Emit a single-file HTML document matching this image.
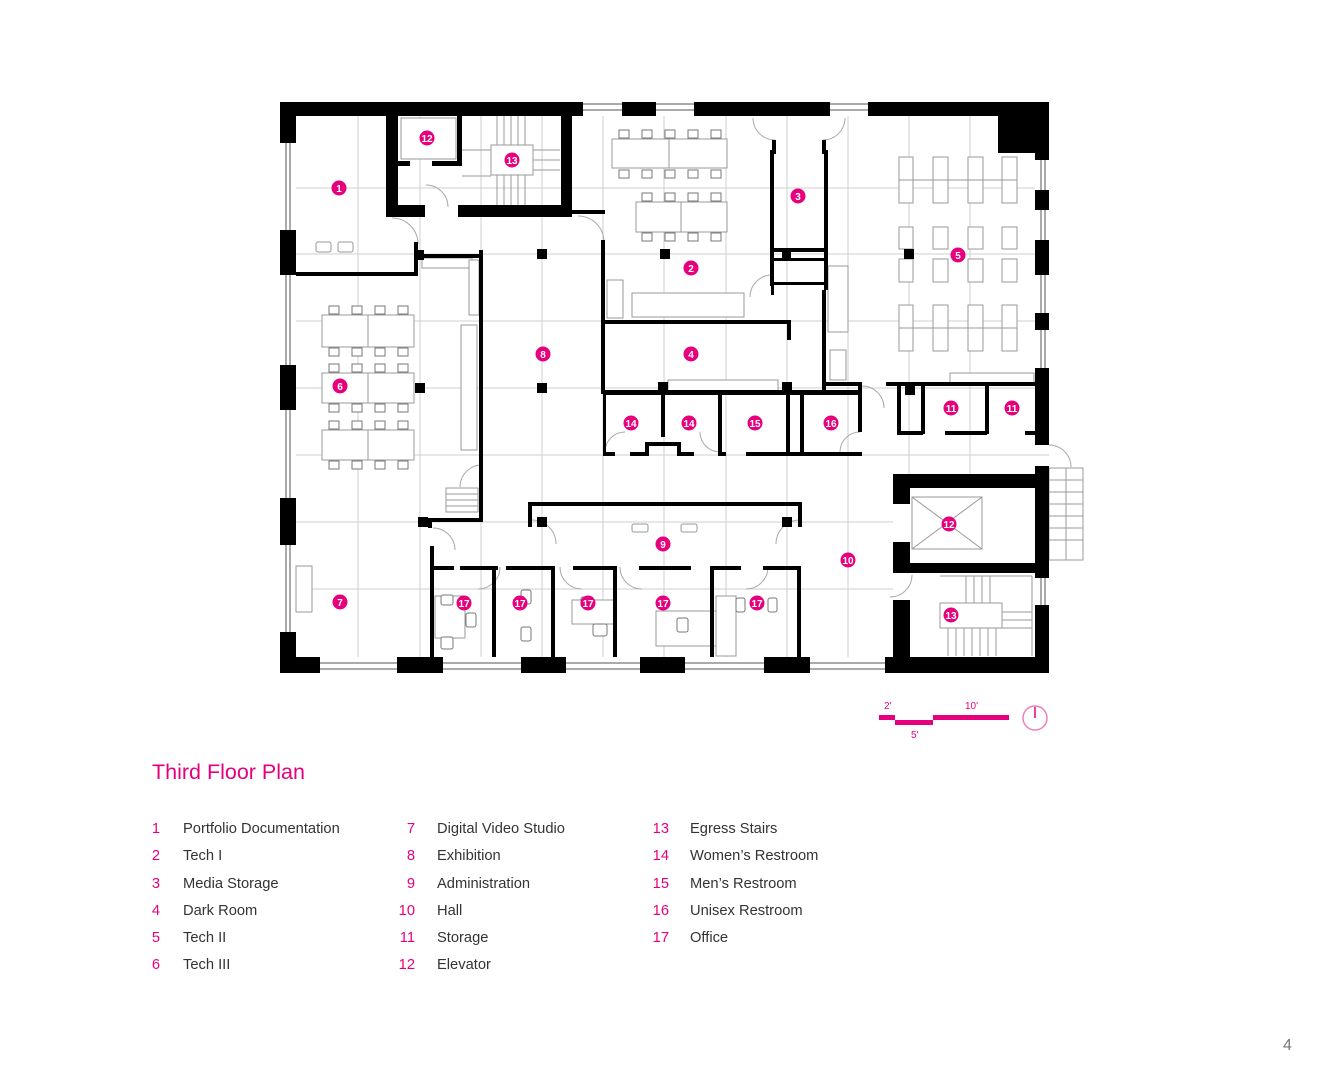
<!DOCTYPE html>
<html><head><meta charset="utf-8"><style>
html,body{margin:0;padding:0;background:#fff;}
body{width:1331px;height:1080px;position:relative;overflow:hidden;font-family:"Liberation Sans",sans-serif;}
svg{position:absolute;left:0;top:0;}
</style></head><body>
<svg width="1331" height="1080" viewBox="0 0 1331 1080" xmlns="http://www.w3.org/2000/svg">
<!-- grid -->
<g stroke="#cfcfcf" stroke-width="1">
<line x1="358" y1="116" x2="358" y2="657"/><line x1="420" y1="116" x2="420" y2="657"/>
<line x1="481" y1="116" x2="481" y2="657"/><line x1="542" y1="116" x2="542" y2="657"/>
<line x1="603" y1="116" x2="603" y2="657"/><line x1="664" y1="116" x2="664" y2="657"/>
<line x1="726" y1="116" x2="726" y2="657"/><line x1="787" y1="116" x2="787" y2="657"/>
<line x1="848" y1="116" x2="848" y2="657"/><line x1="909" y1="116" x2="909" y2="475"/>
<line x1="970" y1="116" x2="970" y2="475"/>
<line x1="296" y1="188" x2="1035" y2="188"/><line x1="296" y1="254" x2="1035" y2="254"/>
<line x1="296" y1="321" x2="1035" y2="321"/><line x1="296" y1="388" x2="1035" y2="388"/>
<line x1="296" y1="455" x2="1049" y2="455"/><line x1="296" y1="522" x2="893" y2="522"/>
<line x1="296" y1="589" x2="893" y2="589"/>
</g>
<!-- furniture light -->
<g fill="#fff" stroke="#999" stroke-width="1">
<rect x="899" y="157" width="14" height="46"/><rect x="933" y="157" width="15" height="46"/><rect x="968" y="157" width="15" height="46"/><rect x="1002" y="157" width="15" height="46"/>
<line x1="899" y1="180" x2="1017" y2="180"/>
<rect x="899" y="227" width="14" height="22"/><rect x="933" y="227" width="15" height="22"/><rect x="968" y="227" width="15" height="22"/><rect x="1002" y="227" width="15" height="22"/>
<rect x="899" y="259" width="14" height="23"/><rect x="933" y="259" width="15" height="23"/><rect x="968" y="259" width="15" height="23"/><rect x="1002" y="259" width="15" height="23"/>
<rect x="899" y="305" width="14" height="46"/><rect x="933" y="305" width="15" height="46"/><rect x="968" y="305" width="15" height="46"/><rect x="1002" y="305" width="15" height="46"/>
<line x1="899" y1="328" x2="1017" y2="328"/>
<rect x="950" y="373" width="84" height="10"/>
<rect x="612" y="139" width="57" height="29"/><rect x="669" y="139" width="58" height="29"/>
<rect x="636" y="202" width="45" height="30"/><rect x="681" y="202" width="46" height="30"/>
<rect x="632" y="293" width="112" height="24"/><rect x="607" y="280" width="16" height="38"/>
<rect x="828" y="266" width="20" height="66"/><rect x="830" y="350" width="16" height="30"/>
<rect x="322" y="315" width="46" height="32"/><rect x="368" y="315" width="46" height="32"/>
<rect x="322" y="373" width="46" height="30"/><rect x="368" y="373" width="46" height="30"/>
<rect x="322" y="430" width="46" height="30"/><rect x="368" y="430" width="46" height="30"/>
<rect x="422" y="258" width="50" height="10"/><rect x="469" y="260" width="10" height="55"/>
<rect x="461" y="325" width="16" height="125"/>
<rect x="296" y="566" width="16" height="46"/>
<rect x="316" y="242" width="15" height="10" rx="2"/><rect x="338" y="242" width="15" height="10" rx="2"/>
<rect x="632" y="524" width="16" height="8" rx="2"/><rect x="681" y="524" width="16" height="8" rx="2"/>
<rect x="668" y="380" width="110" height="12"/>
<rect x="401" y="118" width="55" height="41"/>
<rect x="912" y="497" width="70" height="52"/>
<line x1="912" y1="497" x2="982" y2="549"/><line x1="982" y1="497" x2="912" y2="549"/>
<!-- stairs upper -->
<rect x="491" y="145" width="42" height="30"/>
<line x1="497" y1="116" x2="497" y2="145"/><line x1="504" y1="116" x2="504" y2="145"/><line x1="511" y1="116" x2="511" y2="145"/><line x1="518" y1="116" x2="518" y2="145"/><line x1="525" y1="116" x2="525" y2="145"/>
<line x1="497" y1="175" x2="497" y2="205"/><line x1="504" y1="175" x2="504" y2="205"/><line x1="511" y1="175" x2="511" y2="205"/><line x1="518" y1="175" x2="518" y2="205"/><line x1="525" y1="175" x2="525" y2="205"/>
<line x1="533" y1="150" x2="560" y2="150"/><line x1="533" y1="160" x2="560" y2="160"/><line x1="533" y1="170" x2="560" y2="170"/>
<line x1="462" y1="150" x2="491" y2="150"/><line x1="462" y1="176" x2="491" y2="176"/>
<!-- stairs lower -->
<rect x="940" y="603" width="62" height="25"/>
<line x1="940" y1="576" x2="1032" y2="576"/><line x1="1032" y1="576" x2="1032" y2="656"/>
<line x1="948" y1="628" x2="948" y2="656"/><line x1="956" y1="628" x2="956" y2="656"/><line x1="964" y1="628" x2="964" y2="656"/><line x1="972" y1="628" x2="972" y2="656"/><line x1="980" y1="628" x2="980" y2="656"/><line x1="988" y1="628" x2="988" y2="656"/><line x1="996" y1="628" x2="996" y2="656"/>
<line x1="1002" y1="612" x2="1032" y2="612"/><line x1="1002" y1="620" x2="1032" y2="620"/><line x1="1002" y1="628" x2="1032" y2="628"/>
<line x1="966" y1="576" x2="966" y2="603"/><line x1="974" y1="576" x2="974" y2="603"/><line x1="982" y1="576" x2="982" y2="603"/><line x1="990" y1="576" x2="990" y2="603"/>
<rect x="1049" y="468" width="34" height="92"/><line x1="1066" y1="468" x2="1066" y2="560"/>
<line x1="1049" y1="480" x2="1083" y2="480"/><line x1="1049" y1="492" x2="1083" y2="492"/><line x1="1049" y1="504" x2="1083" y2="504"/><line x1="1049" y1="516" x2="1083" y2="516"/><line x1="1049" y1="528" x2="1083" y2="528"/><line x1="1049" y1="540" x2="1083" y2="540"/>
<rect x="446" y="488" width="32" height="24"/>
<line x1="446" y1="494" x2="478" y2="494"/><line x1="446" y1="500" x2="478" y2="500"/><line x1="446" y1="506" x2="478" y2="506"/>
<rect x="435" y="596" width="30" height="42"/><rect x="572" y="600" width="44" height="24"/>
<rect x="656" y="611" width="60" height="35"/><rect x="716" y="596" width="20" height="60"/>
</g>
<g fill="#fff" stroke="#777" stroke-width="1">
<rect x="619" y="130" width="10" height="8"/><rect x="642" y="130" width="10" height="8"/><rect x="665" y="130" width="10" height="8"/><rect x="688" y="130" width="10" height="8"/><rect x="711" y="130" width="10" height="8"/>
<rect x="619" y="170" width="10" height="8"/><rect x="642" y="170" width="10" height="8"/><rect x="665" y="170" width="10" height="8"/><rect x="688" y="170" width="10" height="8"/><rect x="711" y="170" width="10" height="8"/>
<rect x="642" y="193" width="10" height="8"/><rect x="665" y="193" width="10" height="8"/><rect x="688" y="193" width="10" height="8"/><rect x="711" y="193" width="10" height="8"/>
<rect x="642" y="233" width="10" height="8"/><rect x="665" y="233" width="10" height="8"/><rect x="688" y="233" width="10" height="8"/><rect x="711" y="233" width="10" height="8"/>
<rect x="329" y="306" width="10" height="8"/><rect x="352" y="306" width="10" height="8"/><rect x="375" y="306" width="10" height="8"/><rect x="398" y="306" width="10" height="8"/>
<rect x="329" y="348" width="10" height="8"/><rect x="352" y="348" width="10" height="8"/><rect x="375" y="348" width="10" height="8"/><rect x="398" y="348" width="10" height="8"/>
<rect x="329" y="364" width="10" height="8"/><rect x="352" y="364" width="10" height="8"/><rect x="375" y="364" width="10" height="8"/><rect x="398" y="364" width="10" height="8"/>
<rect x="329" y="404" width="10" height="8"/><rect x="352" y="404" width="10" height="8"/><rect x="375" y="404" width="10" height="8"/><rect x="398" y="404" width="10" height="8"/>
<rect x="329" y="421" width="10" height="8"/><rect x="352" y="421" width="10" height="8"/><rect x="375" y="421" width="10" height="8"/><rect x="398" y="421" width="10" height="8"/>
<rect x="329" y="461" width="10" height="8"/><rect x="352" y="461" width="10" height="8"/><rect x="375" y="461" width="10" height="8"/><rect x="398" y="461" width="10" height="8"/>
<rect x="441" y="595" width="12" height="10" rx="2"/><rect x="466" y="613" width="10" height="14" rx="2"/><rect x="441" y="637" width="12" height="12" rx="2"/>
<rect x="521" y="590" width="10" height="14" rx="2"/><rect x="521" y="627" width="10" height="14" rx="2"/>
<rect x="581" y="597" width="12" height="10" rx="2"/><rect x="593" y="624" width="14" height="12" rx="2"/>
<rect x="677" y="618" width="11" height="14" rx="2"/>
<rect x="736" y="598" width="9" height="14" rx="2"/><rect x="768" y="598" width="9" height="14" rx="2"/>
</g>
<g fill="none" stroke="#aaa" stroke-width="1">
<path d="M392 218 A26 26 0 0 1 418 244"/><path d="M426 185 A22 22 0 0 1 448 207"/>
<path d="M578 216 A26 26 0 0 1 604 242"/><path d="M753 118 A22 22 0 0 0 775 140"/>
<path d="M845 118 A22 22 0 0 1 823 140"/><path d="M750 297 A22 22 0 0 1 772 275"/>
<path d="M482 465 A22 22 0 0 0 460 487"/><path d="M433 528 A22 22 0 0 1 455 550"/>
<path d="M862 386 A22 22 0 0 1 884 408"/><path d="M532 520 A24 24 0 0 1 556 544"/>
<path d="M800 520 A24 24 0 0 0 776 544"/><path d="M1049 445 A22 22 0 0 1 1071 467"/>
<path d="M912 575 A22 22 0 0 1 890 597"/>
<path d="M500 567 A22 22 0 0 1 478 589"/><path d="M560 567 A22 22 0 0 0 582 589"/>
<path d="M620 567 A22 22 0 0 0 642 589"/><path d="M768 567 A22 22 0 0 1 746 589"/>
<path d="M605 452 A20 20 0 0 1 625 432"/><path d="M720 452 A20 20 0 0 1 700 432"/>
<path d="M840 452 A20 20 0 0 1 860 432"/>
</g>
<g stroke="#555" stroke-width="1">
<line x1="286" y1="143" x2="286" y2="632"/><line x1="290" y1="143" x2="290" y2="632"/>
<line x1="583" y1="104" x2="1040" y2="104"/><line x1="583" y1="110" x2="868" y2="110"/>
<line x1="320" y1="663" x2="885" y2="663"/><line x1="320" y1="669" x2="885" y2="669"/>
<line x1="1041" y1="160" x2="1041" y2="368"/><line x1="1045" y1="160" x2="1045" y2="368"/>
<line x1="1041" y1="578" x2="1041" y2="612"/><line x1="1045" y1="578" x2="1045" y2="612"/>
</g>
<g fill="#000">
<rect x="280" y="102" width="303" height="14"/><rect x="622" y="102" width="34" height="14"/>
<rect x="694" y="102" width="136" height="14"/><rect x="868" y="102" width="181" height="14"/>
<rect x="998" y="102" width="51" height="51"/>
<rect x="280" y="102" width="16" height="41"/><rect x="280" y="230" width="16" height="45"/>
<rect x="280" y="365" width="16" height="45"/><rect x="280" y="498" width="16" height="47"/>
<rect x="280" y="632" width="16" height="41"/>
<rect x="280" y="657" width="40" height="16"/><rect x="397" y="657" width="46" height="16"/>
<rect x="521" y="657" width="45" height="16"/><rect x="640" y="657" width="45" height="16"/>
<rect x="764" y="657" width="46" height="16"/><rect x="885" y="657" width="164" height="16"/>
<rect x="1035" y="102" width="14" height="58"/><rect x="1035" y="190" width="14" height="20"/>
<rect x="1035" y="240" width="14" height="35"/><rect x="1035" y="313" width="14" height="17"/>
<rect x="1035" y="368" width="14" height="77"/><rect x="1035" y="466" width="14" height="112"/>
<rect x="1035" y="605" width="14" height="68"/>
<rect x="386" y="102" width="12" height="113"/><rect x="386" y="205" width="39" height="12"/>
<rect x="458" y="205" width="114" height="12"/><rect x="561" y="102" width="11" height="113"/>
<rect x="398" y="161" width="12" height="5"/><rect x="432" y="161" width="30" height="5"/>
<rect x="457" y="102" width="5" height="64"/>
<rect x="571" y="210" width="34" height="4"/>
<rect x="296" y="272" width="122" height="4"/><rect x="414" y="242" width="4" height="34"/>
<rect x="414" y="250" width="10" height="10"/><rect x="424" y="254" width="58" height="4"/>
<rect x="479" y="250" width="4" height="272"/><rect x="601" y="240" width="4" height="154"/>
<rect x="418" y="517" width="10" height="10"/><rect x="428" y="518" width="54" height="4"/>
<rect x="430" y="546" width="4" height="111"/><rect x="428" y="518" width="4" height="10"/>
<rect x="601" y="320" width="190" height="4"/><rect x="787" y="320" width="4" height="20"/>
<rect x="603" y="390" width="259" height="5"/>
<rect x="658" y="382" width="10" height="10"/><rect x="782" y="382" width="10" height="10"/>
<rect x="770" y="150" width="4" height="136"/><rect x="824" y="150" width="4" height="140"/>
<rect x="772" y="140" width="4" height="14"/><rect x="822" y="140" width="4" height="14"/>
<rect x="770" y="248" width="58" height="4"/><rect x="770" y="258" width="58" height="3"/>
<rect x="782" y="250" width="9" height="9"/><rect x="770" y="282" width="58" height="3"/>
<rect x="771" y="285" width="3" height="10"/>
<rect x="822" y="290" width="4" height="102"/><rect x="826" y="382" width="36" height="4"/>
<rect x="858" y="382" width="4" height="50"/>
<rect x="603" y="395" width="3" height="60"/><rect x="661" y="395" width="4" height="42"/>
<rect x="718" y="395" width="4" height="60"/>
<rect x="786" y="395" width="4" height="60"/><rect x="800" y="395" width="4" height="60"/>
<rect x="603" y="452" width="12" height="4"/><rect x="630" y="452" width="17" height="4"/>
<rect x="645" y="442" width="4" height="14"/><rect x="645" y="442" width="34" height="4"/><rect x="677" y="442" width="4" height="14"/>
<rect x="677" y="452" width="17" height="4"/><rect x="718" y="452" width="8" height="4"/>
<rect x="746" y="452" width="116" height="4"/>
<rect x="886" y="382" width="149" height="4"/><rect x="897" y="382" width="4" height="52"/>
<rect x="897" y="431" width="26" height="4"/><rect x="921" y="386" width="4" height="48"/>
<rect x="945" y="431" width="42" height="4"/><rect x="985" y="386" width="4" height="48"/>
<rect x="1025" y="431" width="10" height="4"/><rect x="905" y="385" width="10" height="10"/>
<rect x="537" y="249" width="10" height="10"/><rect x="660" y="249" width="10" height="10"/>
<rect x="904" y="249" width="10" height="10"/><rect x="415" y="383" width="10" height="10"/>
<rect x="537" y="383" width="10" height="10"/>
<rect x="528" y="502" width="274" height="4"/><rect x="528" y="502" width="4" height="25"/>
<rect x="798" y="502" width="4" height="25"/>
<rect x="537" y="517" width="10" height="10"/><rect x="782" y="517" width="10" height="10"/>
<rect x="434" y="566" width="20" height="4"/><rect x="460" y="566" width="38" height="4"/>
<rect x="506" y="566" width="48" height="4"/><rect x="573" y="566" width="42" height="4"/>
<rect x="639" y="566" width="52" height="4"/>
<rect x="713" y="566" width="28" height="4"/><rect x="763" y="566" width="38" height="4"/>
<rect x="492" y="566" width="4" height="91"/><rect x="551" y="566" width="4" height="91"/>
<rect x="613" y="566" width="4" height="91"/><rect x="710" y="566" width="4" height="91"/>
<rect x="797" y="566" width="4" height="91"/>
<rect x="893" y="474" width="142" height="14"/><rect x="893" y="474" width="17" height="30"/>
<rect x="893" y="542" width="17" height="31"/><rect x="893" y="563" width="142" height="10"/>
<rect x="893" y="600" width="17" height="57"/>
</g>
<g font-family="Liberation Sans,sans-serif" font-weight="bold" font-size="10" fill="#fff" text-anchor="middle">
<g fill="#e6007e">
<circle cx="339" cy="188" r="7.5"/><circle cx="427" cy="138" r="7.5"/><circle cx="512" cy="160" r="7.5"/>
<circle cx="798" cy="196" r="7.5"/><circle cx="691" cy="268" r="7.5"/><circle cx="958" cy="255" r="7.5"/>
<circle cx="543" cy="354" r="7.5"/><circle cx="691" cy="354" r="7.5"/><circle cx="340" cy="386" r="7.5"/>
<circle cx="631" cy="423" r="7.5"/><circle cx="689" cy="423" r="7.5"/><circle cx="755" cy="423" r="7.5"/>
<circle cx="831" cy="423" r="7.5"/><circle cx="951" cy="408" r="7.5"/><circle cx="1012" cy="408" r="7.5"/>
<circle cx="949" cy="524" r="7.5"/><circle cx="663" cy="544" r="7.5"/><circle cx="848" cy="560" r="7.5"/>
<circle cx="340" cy="602" r="7.5"/><circle cx="464" cy="603" r="7.5"/><circle cx="520" cy="603" r="7.5"/>
<circle cx="588" cy="603" r="7.5"/><circle cx="663" cy="603" r="7.5"/><circle cx="757" cy="603" r="7.5"/>
<circle cx="951" cy="615" r="7.5"/>
</g>
<text x="339" y="192">1</text><text x="427" y="142">12</text><text x="512" y="164">13</text>
<text x="798" y="200">3</text><text x="691" y="272">2</text><text x="958" y="259">5</text>
<text x="543" y="358">8</text><text x="691" y="358">4</text><text x="340" y="390">6</text>
<text x="631" y="427">14</text><text x="689" y="427">14</text><text x="755" y="427">15</text>
<text x="831" y="427">16</text><text x="951" y="412">11</text><text x="1012" y="412">11</text>
<text x="949" y="528">12</text><text x="663" y="548">9</text><text x="848" y="564">10</text>
<text x="340" y="606">7</text><text x="464" y="607">17</text><text x="520" y="607">17</text>
<text x="588" y="607">17</text><text x="663" y="607">17</text><text x="757" y="607">17</text>
<text x="951" y="619">13</text>
</g>
<g fill="#e6007e">
<rect x="879" y="715" width="16" height="5"/><rect x="895" y="720" width="38" height="5"/>
<rect x="933" y="715" width="76" height="5"/>
</g>
<g fill="#e6007e" font-size="10" font-family="Liberation Sans,sans-serif">
<text x="884" y="709">2'</text><text x="965" y="709">10'</text><text x="911" y="738">5'</text>
</g>
<circle cx="1035" cy="718" r="12" fill="none" stroke="#ee7fbf" stroke-width="1.5"/>
<line x1="1035" y1="707" x2="1035" y2="718" stroke="#e6007e" stroke-width="1.5"/>
<text x="152" y="779" font-size="21.5" fill="#e6007e" font-family="Liberation Sans,sans-serif">Third Floor Plan</text>
<g font-size="14.7" font-family="Liberation Sans,sans-serif">
<g fill="#e6007e" text-anchor="end">
<text x="160" y="833">1</text><text x="160" y="860">2</text><text x="160" y="888">3</text><text x="160" y="915">4</text><text x="160" y="942">5</text><text x="160" y="969">6</text>
<text x="415" y="833">7</text><text x="415" y="860">8</text><text x="415" y="888">9</text><text x="415" y="915">10</text><text x="415" y="942">11</text><text x="415" y="969">12</text>
<text x="669" y="833">13</text><text x="669" y="860">14</text><text x="669" y="888">15</text><text x="669" y="915">16</text><text x="669" y="942">17</text>
</g>
<g fill="#333">
<text x="183" y="833">Portfolio Documentation</text><text x="183" y="860">Tech I</text><text x="183" y="888">Media Storage</text><text x="183" y="915">Dark Room</text><text x="183" y="942">Tech II</text><text x="183" y="969">Tech III</text>
<text x="437" y="833">Digital Video Studio</text><text x="437" y="860">Exhibition</text><text x="437" y="888">Administration</text><text x="437" y="915">Hall</text><text x="437" y="942">Storage</text><text x="437" y="969">Elevator</text>
<text x="690" y="833">Egress Stairs</text><text x="690" y="860">Women’s Restroom</text><text x="690" y="888">Men’s Restroom</text><text x="690" y="915">Unisex Restroom</text><text x="690" y="942">Office</text>
</g>
</g>
<text x="1283" y="1050" font-size="16" fill="#777" font-family="Liberation Sans,sans-serif">4</text>
</svg>
</body></html>
